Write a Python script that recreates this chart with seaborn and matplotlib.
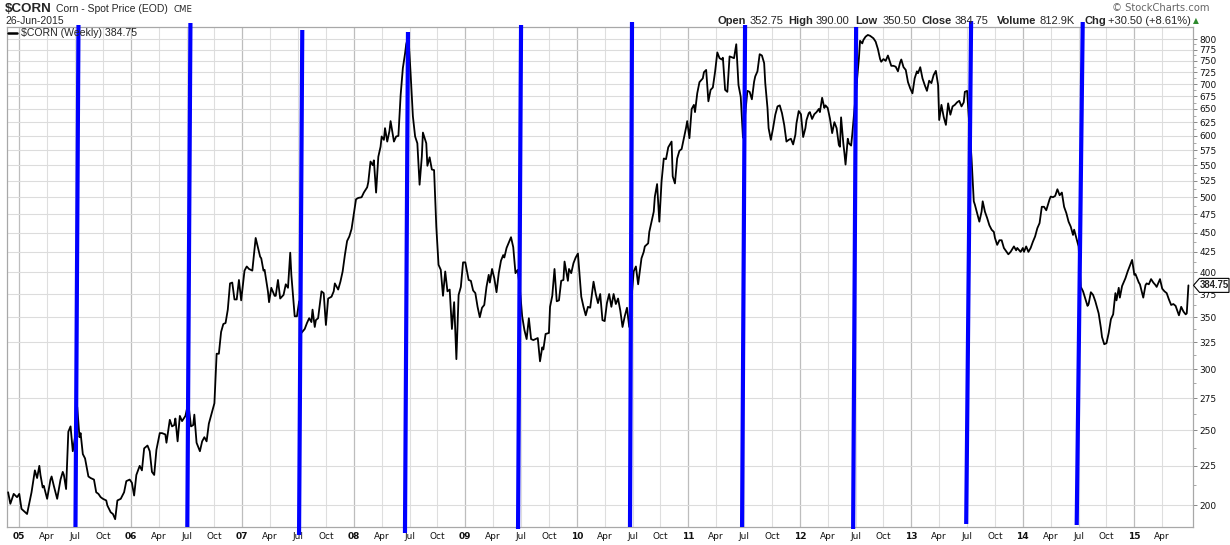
import matplotlib
matplotlib.use("Agg")
import matplotlib.pyplot as plt
import matplotlib.transforms as mtransforms
from matplotlib.patches import Polygon
from matplotlib.ticker import FixedLocator, FixedFormatter, NullFormatter
import numpy as np
import pandas as pd
import seaborn as sns

# ---------------- data (weekly close) ----------------
t_year = [
    2004.90, 2004.92, 2004.95, 2004.98, 2005.00, 2005.02, 2005.07, 2005.11, 2005.14, 2005.16,
    2005.18, 2005.19, 2005.21, 2005.22, 2005.25, 2005.28, 2005.29, 2005.31, 2005.34, 2005.37,
    2005.39, 2005.40, 2005.42, 2005.44, 2005.46, 2005.48, 2005.50, 2005.52, 2005.54, 2005.55,
    2005.57, 2005.59, 2005.62, 2005.64, 2005.67, 2005.69, 2005.71, 2005.73, 2005.75, 2005.78,
    2005.79, 2005.82, 2005.84, 2005.86, 2005.88, 2005.91, 2005.94, 2005.96, 2005.99, 2006.01,
    2006.03, 2006.05, 2006.08, 2006.10, 2006.12, 2006.15, 2006.17, 2006.19, 2006.21, 2006.23,
    2006.26, 2006.28, 2006.31, 2006.32, 2006.35, 2006.37, 2006.39, 2006.40, 2006.42, 2006.44,
    2006.46, 2006.49, 2006.51, 2006.52, 2006.54, 2006.56, 2006.57, 2006.59, 2006.62, 2006.64,
    2006.66, 2006.68, 2006.70, 2006.75, 2006.77, 2006.79, 2006.81, 2006.83, 2006.85, 2006.87,
    2006.89, 2006.91, 2006.93, 2006.95, 2006.97, 2006.99, 2007.02, 2007.04, 2007.06,
    2007.09, 2007.12, 2007.14, 2007.16, 2007.17, 2007.19, 2007.20, 2007.23, 2007.24, 2007.26,
    2007.29, 2007.30, 2007.32, 2007.34, 2007.37, 2007.39, 2007.41, 2007.43, 2007.44, 2007.47,
    2007.49, 2007.51, 2007.53, 2007.56, 2007.58, 2007.60, 2007.62, 2007.63, 2007.65, 2007.66,
    2007.68, 2007.71, 2007.73, 2007.75, 2007.77, 2007.80, 2007.82, 2007.83, 2007.86, 2007.88,
    2007.90, 2007.92, 2007.94, 2007.96, 2007.98, 2007.99, 2008.02, 2008.04, 2008.07, 2008.09,
    2008.12, 2008.13, 2008.15, 2008.17, 2008.18, 2008.20, 2008.22, 2008.24, 2008.25, 2008.27,
    2008.28, 2008.30, 2008.32, 2008.33, 2008.36, 2008.38, 2008.40, 2008.42, 2008.44, 2008.46,
    2008.47, 2008.49, 2008.51,
    2008.53, 2008.55, 2008.57, 2008.59, 2008.61, 2008.62, 2008.65, 2008.66, 2008.68, 2008.70,
    2008.72, 2008.74, 2008.76, 2008.78, 2008.80, 2008.82, 2008.84, 2008.86, 2008.88, 2008.90,
    2008.92, 2008.94, 2008.96, 2008.98, 2009.00, 2009.03, 2009.05, 2009.07, 2009.09, 2009.11,
    2009.13, 2009.15, 2009.17, 2009.19, 2009.21, 2009.22, 2009.24, 2009.26, 2009.28, 2009.30,
    2009.32, 2009.34, 2009.35, 2009.37, 2009.39, 2009.41, 2009.43, 2009.45, 2009.47, 2009.49,
    2009.51, 2009.53, 2009.55, 2009.57, 2009.59, 2009.61, 2009.63, 2009.65, 2009.67, 2009.69,
    2009.70, 2009.72, 2009.75, 2009.76, 2009.78, 2009.80, 2009.82, 2009.84, 2009.86, 2009.88,
    2009.89, 2009.92, 2009.93,
    2009.95, 2009.97, 2009.99, 2010.01, 2010.04, 2010.06, 2010.08, 2010.10, 2010.12, 2010.15,
    2010.17, 2010.19, 2010.21, 2010.23, 2010.25, 2010.27, 2010.29, 2010.31, 2010.33, 2010.35,
    2010.37, 2010.39, 2010.41, 2010.43, 2010.45, 2010.47, 2010.51, 2010.53, 2010.55, 2010.58,
    2010.60, 2010.61, 2010.64, 2010.65, 2010.67, 2010.69, 2010.70, 2010.72, 2010.74, 2010.76,
    2010.78, 2010.80, 2010.82, 2010.85, 2010.86, 2010.88, 2010.90, 2010.92, 2010.94, 2010.96,
    2010.98, 2010.99, 2011.01, 2011.03, 2011.05, 2011.06, 2011.08, 2011.10, 2011.13, 2011.14,
    2011.16, 2011.18, 2011.20, 2011.22, 2011.24, 2011.26, 2011.28, 2011.30, 2011.31, 2011.33,
    2011.35, 2011.37, 2011.40, 2011.41, 2011.43, 2011.45, 2011.47, 2011.49, 2011.53, 2011.55,
    2011.57, 2011.59, 2011.60, 2011.62, 2011.64, 2011.66, 2011.68, 2011.69, 2011.71, 2011.72,
    2011.74, 2011.76, 2011.78, 2011.80, 2011.82, 2011.84, 2011.86, 2011.88, 2011.90, 2011.92,
    2011.94, 2011.96, 2011.97, 2011.99, 2012.01, 2012.03, 2012.05, 2012.06, 2012.08, 2012.09,
    2012.11, 2012.13, 2012.15, 2012.17, 2012.18, 2012.20, 2012.22, 2012.23, 2012.25, 2012.27,
    2012.29, 2012.31, 2012.33, 2012.35, 2012.36, 2012.37, 2012.39, 2012.40, 2012.41, 2012.43,
    2012.44, 2012.46, 2012.47, 2012.53, 2012.54, 2012.56, 2012.57, 2012.59, 2012.61, 2012.63,
    2012.65, 2012.66, 2012.68, 2012.70, 2012.72, 2012.73, 2012.75, 2012.77, 2012.79, 2012.81,
    2012.82, 2012.84, 2012.86, 2012.88, 2012.90, 2012.91, 2012.93, 2012.95, 2012.97, 2012.99,
    2013.01, 2013.03, 2013.05, 2013.06, 2013.08, 2013.10, 2013.12, 2013.14, 2013.16, 2013.18,
    2013.20, 2013.22, 2013.24, 2013.25, 2013.27, 2013.29, 2013.31, 2013.33, 2013.35, 2013.37,
    2013.39, 2013.41, 2013.43, 2013.45, 2013.47, 2013.48, 2013.50, 2013.54, 2013.56, 2013.57,
    2013.59, 2013.61, 2013.63, 2013.64, 2013.66, 2013.68, 2013.70, 2013.72, 2013.74, 2013.75,
    2013.77, 2013.79, 2013.81, 2013.83, 2013.85, 2013.87, 2013.89, 2013.92, 2013.94, 2013.95,
    2013.98, 2014.00, 2014.01, 2014.03, 2014.05, 2014.07, 2014.09, 2014.11, 2014.13, 2014.15,
    2014.17, 2014.19, 2014.21, 2014.24,
    2014.25, 2014.27, 2014.29, 2014.31, 2014.33, 2014.35, 2014.37, 2014.39, 2014.41, 2014.43,
    2014.45, 2014.46, 2014.48, 2014.50, 2014.52, 2014.54, 2014.56, 2014.58, 2014.59, 2014.61,
    2014.63, 2014.65, 2014.68, 2014.70, 2014.71, 2014.73, 2014.75, 2014.77, 2014.79, 2014.81,
    2014.83, 2014.84, 2014.86, 2014.87, 2014.89, 2014.92, 2014.94, 2014.96, 2014.98, 2015.00,
    2015.01, 2015.04, 2015.05, 2015.08, 2015.10, 2015.11, 2015.13, 2015.15, 2015.17, 2015.19,
    2015.20, 2015.23, 2015.25, 2015.27, 2015.29, 2015.31, 2015.33, 2015.35, 2015.37, 2015.40,
    2015.42, 2015.44, 2015.46, 2015.47, 2015.485,
]
price = [
    208, 201, 207, 205, 207, 198, 195, 208, 222, 217,
    225, 219, 211, 212, 204, 216, 218, 212, 204, 216,
    221, 219, 210, 249, 253, 235, 245, 268, 245, 248,
    233, 230, 218, 217, 216, 208, 207, 205, 204, 203,
    200, 196, 195, 192, 203, 204, 208, 215, 216, 214,
    206, 219, 225, 222, 237, 239, 235, 221, 219, 236,
    248, 248, 247, 241, 258, 253, 254, 259, 242, 261,
    257, 261, 269, 268, 253, 254, 262, 241, 235, 242,
    245, 242, 255, 271, 314, 314, 335, 343, 344, 358,
    387, 388, 369, 369, 391, 368, 402, 407, 404,
    402, 443, 431, 419, 417, 402, 403, 378, 366, 382,
    373, 373, 391, 370, 374, 386, 382, 424, 397, 351,
    351, 367, 334, 338, 344, 349, 345, 358, 340, 347,
    349, 378, 376, 342, 370, 372, 378, 387, 380, 389,
    401, 421, 439, 445, 455, 465, 497, 499, 500, 507,
    515, 523, 556, 550, 558, 507, 564, 581, 599, 593,
    614, 590, 609, 627, 590, 599, 600, 677, 734, 767,
    788, 808, 720,
    636, 599, 587, 519, 564, 606, 587, 549, 563, 543,
    542, 458, 409, 403, 373, 401, 378, 380, 338, 366,
    309, 374, 383, 412, 412, 391, 390, 379, 376, 361,
    350, 360, 363, 383, 397, 388, 404, 393, 377, 399,
    414, 421, 418, 430, 437, 444, 431, 399, 403, 380,
    351, 337, 328, 349, 328, 327, 328, 329, 307, 320,
    318, 333, 334, 361, 373, 404, 367, 368, 390, 391,
    413, 390, 404,
    399, 411, 418, 423, 372, 361, 352, 361, 360, 389,
    375, 365, 375, 347, 346, 365, 375, 361, 375, 364,
    370, 357, 340, 351, 360, 340, 401, 407, 386, 417,
    425, 432, 436, 451, 465, 479, 501, 520, 465, 524,
    561, 560, 580, 590, 532, 521, 561, 574, 577, 596,
    615, 627, 596, 650, 658, 644, 681, 704, 712, 725,
    730, 665, 688, 693, 726, 769, 756, 753, 757, 688,
    684, 760, 757, 756, 788, 698, 674, 597, 686, 684,
    669, 705, 716, 727, 765, 762, 745, 702, 652, 614,
    593, 614, 639, 655, 657, 642, 620, 590, 593, 595,
    585, 602, 623, 646, 640, 598, 614, 629, 642, 644,
    631, 640, 644, 650, 644, 672, 652, 657, 652, 632,
    605, 625, 614, 584, 581, 634, 587, 570, 551, 595,
    587, 583, 602, 756, 796, 790, 798, 806, 810, 808,
    804, 802, 794, 777, 754, 748, 754, 750, 762, 747,
    739, 739, 737, 727, 747, 753, 736, 730, 704, 691,
    681, 712, 727, 723, 736, 712, 698, 686, 707, 702,
    719, 728, 698, 629, 658, 635, 620, 661, 639, 655,
    658, 663, 666, 655, 663, 684, 686, 561, 494, 489,
    477, 465, 479, 494, 479, 470, 460, 454, 451, 443,
    434, 440, 440, 430, 426, 422, 425, 432, 427, 430,
    425, 430, 425, 432, 425, 430, 438, 445, 456, 463,
    486, 486, 481, 497,
    501, 500, 502, 512, 503, 507, 486, 477, 465, 458,
    447, 454, 443, 432, 383, 378, 370, 362, 364, 377,
    374, 367, 354, 339, 330, 323, 324, 334, 348, 353,
    376, 368, 382, 371, 384, 393, 401, 408, 415, 397,
    398, 388, 386, 371, 385, 387, 386, 392, 388, 385,
    383, 392, 381, 378, 376, 369, 363, 364, 362, 352,
    361, 356, 353, 354, 384.75,
]

years = list(range(2005, 2016))
quarter_names = ["Apr", "Jul", "Oct"]
price_ticks = list(range(200, 801, 25))

# hand-drawn blue July marks (decimal year at bottom/top, axes-fraction height)
mark_t_bot = [2005.504, 2006.507, 2007.509, 2008.459, 2009.473, 2010.477, 2011.482, 2012.478, 2013.492, 2014.483]
mark_t_top = [2005.531, 2006.535, 2007.538, 2008.486, 2009.500, 2010.495, 2011.509, 2012.505, 2013.536, 2014.537]
mark_y_bot = [0.0, 0.0, -0.016, -0.012, -0.004, 0.0, 0.0, -0.004, 0.006, 0.004]
mark_y_top = [1.004, 1.008, 0.994, 0.990, 1.004, 1.010, 1.004, 1.000, 1.012, 1.010]

symbol = "$CORN"
last_date = "26-Jun-2015"
bar_open, bar_high, bar_low, bar_close = "352.75", "390.00", "350.50", "384.75"
bar_volume, bar_chg = "812.9K", "+30.50 (+8.61%)"
last_close = 384.75

# ---------------- figure ----------------
W, H = 1230, 545
sns.set_style("white")
plt.rcParams["font.family"] = ["DejaVu Sans"]

fig = plt.figure(figsize=(W / 100, H / 100), dpi=100)
fig.patch.set_facecolor("white")
ax = fig.add_axes([7 / W, 18 / H, 1186 / W, 500 / H])

df = pd.DataFrame({"t": t_year, "price": price})
sns.lineplot(data=df, x="t", y="price", ax=ax, color="black", lw=1.3,
             estimator=None, sort=False, zorder=3)

ax.set_yscale("log")
ax.set_ylim(187.6, 829.4)
x_lo, x_hi = 2004.890, 2015.526
ax.set_xlim(x_lo, x_hi)
ax.set_xlabel("")
ax.set_ylabel("")

# y axis on the right
ax.yaxis.tick_right()
ax.yaxis.set_major_locator(FixedLocator(price_ticks))
ax.yaxis.set_major_formatter(FixedFormatter([str(p) for p in price_ticks]))
ax.yaxis.set_minor_locator(FixedLocator([p + 12.5 for p in price_ticks[:-1]]))
ax.yaxis.set_minor_formatter(NullFormatter())
ax.tick_params(axis="y", which="major", length=3, width=0.7, color="#888888",
               pad=1.5, labelsize=6.5, labelcolor="#111111", right=True, left=False)
ax.tick_params(axis="y", which="minor", length=1.8, width=0.6, color="#999999",
               right=True, left=False)

# x axis: years (major, bold) and quarters (minor)
ax.xaxis.set_major_locator(FixedLocator(years))
ax.xaxis.set_major_formatter(FixedFormatter([f"{y % 100:02d}" for y in years]))
q_pos, q_lab = [], []
for y in [2004] + years:
    for k, name in enumerate(quarter_names):
        pos = y + 0.25 * (k + 1)
        if x_lo < pos < t_year[-1] - 0.01:
            q_pos.append(pos)
            q_lab.append(name)
ax.xaxis.set_minor_locator(FixedLocator(q_pos))
ax.xaxis.set_minor_formatter(FixedFormatter(q_lab))
ax.tick_params(axis="x", which="both", length=0, pad=3.5, labelsize=6.5, labelcolor="#111111")
for lab in ax.get_xticklabels(which="major"):
    lab.set_fontweight("bold")

# grid
ax.grid(axis="y", which="major", color="#dcdcdc", lw=0.8)
ax.grid(axis="x", which="major", color="#bdbdbd", lw=0.9)
ax.grid(axis="x", which="minor", color="#dedede", lw=0.8)
ax.set_axisbelow(True)
for s in ax.spines.values():
    s.set_color("#a8a8a8")
    s.set_linewidth(0.9)

# blue hand-drawn July lines
blend = mtransforms.blended_transform_factory(ax.transData, ax.transAxes)
for tb, tt, yb, yt in zip(mark_t_bot, mark_t_top, mark_y_bot, mark_y_top):
    ax.plot([tb, tt], [yb, yt], color="#0000ff", lw=3.0, transform=blend,
            clip_on=False, zorder=5, solid_capstyle="butt")

# ---------------- texts ----------------
def px(x, y):
    return x / W, 1 - y / H

hfont = ["Liberation Sans", "DejaVu Sans"]
fig.text(*px(5, 9), symbol, fontsize=9.6, fontweight="bold", family=hfont, va="center")
fig.text(*px(56, 9.5), "Corn - Spot Price (EOD)", fontsize=7.5, family=hfont, va="center")
fig.text(*px(174, 10), "CME", fontsize=6.2, family=["DejaVu Sans"], va="center")
fig.text(*px(5, 21), last_date, fontsize=7.5, family=hfont, va="center")
fig.text(*px(1210, 8), "\u00a9 StockCharts.com", fontsize=7.2, color="#666666",
         family=["DejaVu Sans"], va="center", ha="right")

header = [
    ("Open", "bold", 717), (bar_open, "normal", 749.5),
    ("High", "bold", 788), (bar_high, "normal", 816),
    ("Low", "bold", 855.5), (bar_low, "normal", 883),
    ("Close", "bold", 922), (bar_close, "normal", 954.5),
    ("Volume", "bold", 997), (bar_volume, "normal", 1040),
    ("Chg", "bold", 1084.5), (bar_chg, "normal", 1108.5),
]
for s, w, x in header:
    fig.text(*px(x, 21), s, fontsize=8, fontweight=w, family=hfont, va="center")
fig.text(*px(1193, 20.5), "\u25b2", fontsize=5.5, color="#2d8a2d", family=["DejaVu Sans"], va="center")

# legend entry inside plot
fig.add_artist(plt.Line2D([8 / W, 17 / W], [1 - 33 / H, 1 - 33 / H], color="black", lw=1.8))
fig.text(*px(21, 33), f"{symbol} (Weekly) {bar_close}", fontsize=7.6, family=hfont, va="center")

# last price tag on the right axis
fig.canvas.draw()
yc = ax.transData.transform((2010.0, last_close))[1]
xr = ax.transAxes.transform((1.0, 0))[0]
ident = mtransforms.IdentityTransform()
tag = Polygon([(xr + 0.5, yc), (xr + 6.5, yc + 7), (xr + 36, yc + 7), (xr + 36, yc - 7), (xr + 6.5, yc - 7)],
              closed=True, fc="white", ec="black", lw=0.8, transform=ident, zorder=10)
fig.add_artist(tag)
fig.text(xr + 6.5, yc, bar_close, transform=ident, fontsize=6.9, fontweight="bold",
         family=hfont, va="center", ha="left", zorder=11)

fig.savefig("out.png", dpi=100, facecolor="white")
